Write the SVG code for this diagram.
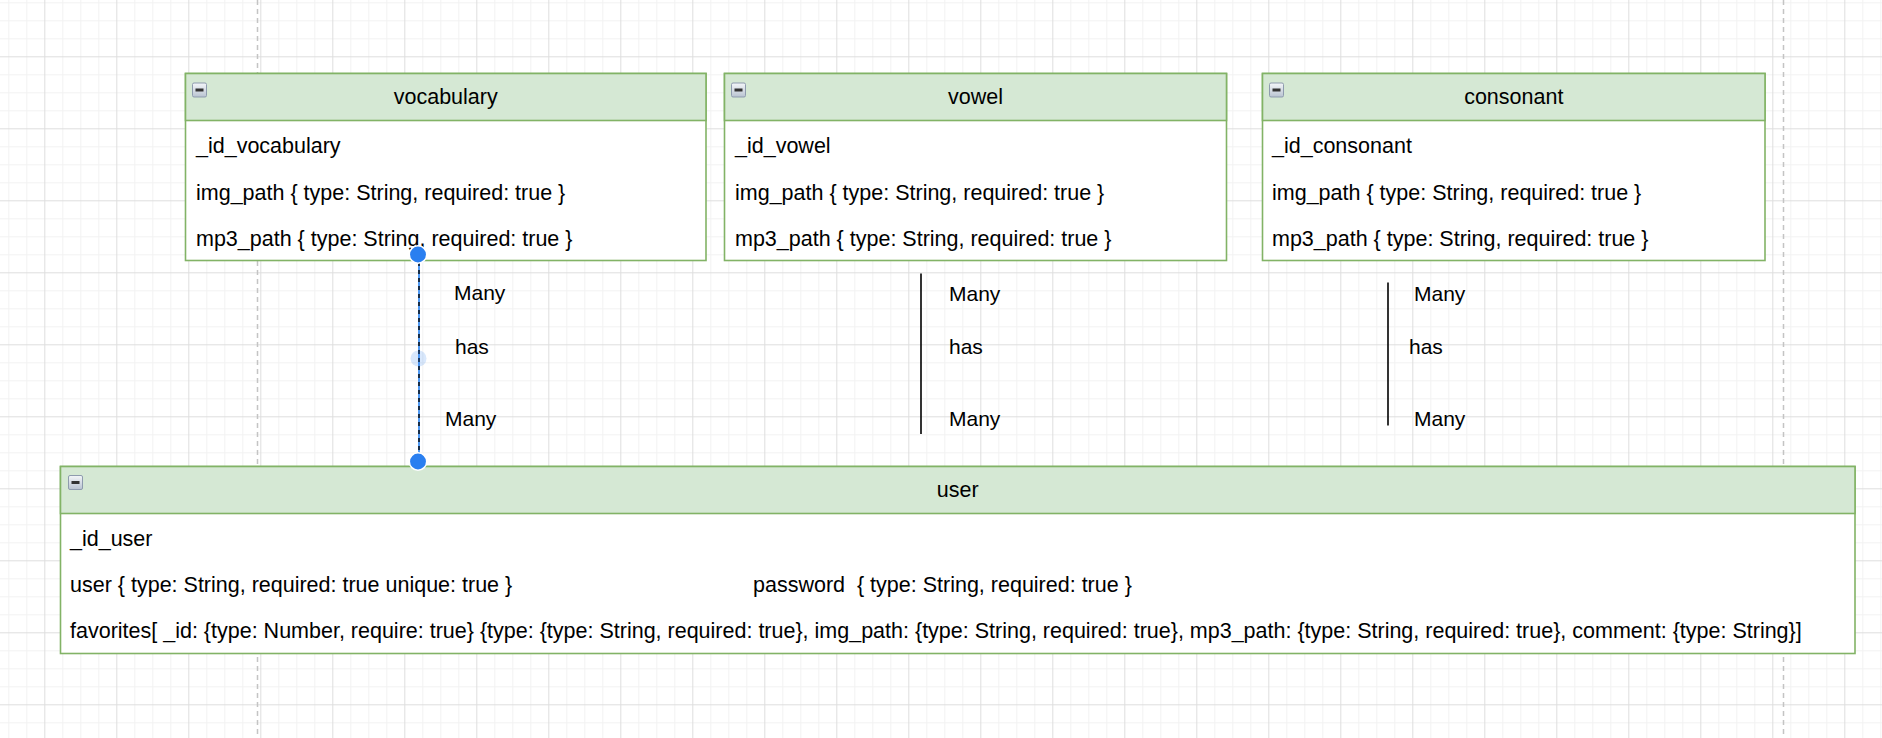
<svg xmlns="http://www.w3.org/2000/svg" width="1882" height="738" viewBox="0 0 1882 738">
<style>
.t{font-family:"Liberation Sans",Arial,Helvetica,sans-serif;font-size:21.5px;fill:#000}
.lbl{font-family:"Liberation Sans",Arial,Helvetica,sans-serif;font-size:21px;fill:#000}
.ttl{text-anchor:middle}
.body{fill:#fff;stroke:#82b366;stroke-width:1.6}
.head{fill:#d5e8d4;stroke:#82b366;stroke-width:1.6}
.edge{stroke:#000;stroke-width:1.6;fill:none}
.page{stroke:#c4c4c4;stroke-width:1.5;stroke-dasharray:5 4;fill:none}
.handle{fill:#2a7ff0;stroke:#fff;stroke-width:1.5}
</style>
<defs>
<pattern id="grid" patternUnits="userSpaceOnUse" x="44.3" y="56.3" width="72" height="72">
<path d="M18.5 0V72M36.5 0V72M54.5 0V72M0 18.5H72M0 36.5H72M0 54.5H72" stroke="#f2f2f2" stroke-width="1" fill="none"/>
<path d="M0.5 0V72M0 0.5H72" stroke="#dedede" stroke-width="1" fill="none"/>
</pattern>
<linearGradient id="ig" x1="0" y1="0" x2="0" y2="1">
<stop offset="0" stop-color="#f4f6f9"/>
<stop offset="1" stop-color="#b9c3d1"/>
</linearGradient>
<g id="icon">
<rect x="0.5" y="0.5" width="14" height="14" rx="1.5" fill="url(#ig)" stroke="#8e9bae" stroke-width="1"/>
<rect x="3.5" y="6" width="8" height="3" fill="#333"/>
</g>
</defs>
<rect width="1882" height="738" fill="#fff"/>
<rect width="1882" height="738" fill="url(#grid)"/>
<path class="page" d="M257.5 0V738M1783.5 0V738"/>

<g id="vocabulary">
<rect class="body" x="185.5" y="73.5" width="520.5" height="187"/>
<rect class="head" x="185.5" y="73.5" width="520.5" height="47"/>
<use href="#icon" x="192" y="82.5"/>
<text class="t ttl" x="445.75" y="104">vocabulary</text>
<text class="t" x="196" y="153">_id_vocabulary</text>
<text class="t" x="196" y="199.5">img_path { type: String, required: true }</text>
<text class="t" x="196" y="246">mp3_path { type: String, required: true }</text>
</g>

<g id="vowel">
<rect class="body" x="724.5" y="73.5" width="502" height="187"/>
<rect class="head" x="724.5" y="73.5" width="502" height="47"/>
<use href="#icon" x="731" y="82.5"/>
<text class="t ttl" x="975.5" y="104">vowel</text>
<text class="t" x="735" y="153">_id_vowel</text>
<text class="t" x="735" y="199.5">img_path { type: String, required: true }</text>
<text class="t" x="735" y="246">mp3_path { type: String, required: true }</text>
</g>

<g id="consonant">
<rect class="body" x="1262.5" y="73.5" width="502.5" height="187"/>
<rect class="head" x="1262.5" y="73.5" width="502.5" height="47"/>
<use href="#icon" x="1269" y="82.5"/>
<text class="t ttl" x="1513.75" y="104">consonant</text>
<text class="t" x="1272" y="153">_id_consonant</text>
<text class="t" x="1272" y="199.5">img_path { type: String, required: true }</text>
<text class="t" x="1272" y="246">mp3_path { type: String, required: true }</text>
</g>

<g id="user">
<rect class="body" x="60.5" y="466.5" width="1794.5" height="187"/>
<rect class="head" x="60.5" y="466.5" width="1794.5" height="47"/>
<use href="#icon" x="68" y="475"/>
<text class="t ttl" x="957.75" y="497">user</text>
<text class="t" x="70" y="545.5">_id_user</text>
<text class="t" x="70" y="592">user { type: String, required: true unique: true }</text>
<text class="t" x="753" y="592" style="white-space:pre" xml:space="preserve">password  { type: String, required: true }</text>
<text class="t" x="70" y="638">favorites[ _id: {type: Number, require: true} {type: {type: String, required: true}, img_path: {type: String, required: true}, mp3_path: {type: String, required: true}, comment: {type: String}]</text>
</g>

<g id="connectors">
<g id="edge-vocabulary-user">
<path d="M419 254V461" stroke="#3d8ff2" stroke-width="1.8" fill="none"/>
<path d="M419 254V461" stroke="#000" stroke-width="1.4" stroke-dasharray="4 4" fill="none"/>
<text class="lbl" x="454" y="300">Many</text>
<text class="lbl" x="455" y="353.5">has</text>
<text class="lbl" x="445" y="425.5">Many</text>
<circle cx="418.5" cy="358.5" r="8" fill="#2a7ff0" fill-opacity="0.18"/>
<circle class="handle" cx="418" cy="254.5" r="8.7"/>
<circle class="handle" cx="418" cy="461.5" r="8.7"/>
</g>
<g id="edge-vowel-user">
<path class="edge" d="M921 273.5V434"/>
<text class="lbl" x="949" y="300.5">Many</text>
<text class="lbl" x="949" y="354">has</text>
<text class="lbl" x="949" y="425.5">Many</text>
</g>
<g id="edge-consonant-user">
<path class="edge" d="M1388 282.5V425.5"/>
<text class="lbl" x="1414" y="300.5">Many</text>
<text class="lbl" x="1409" y="354">has</text>
<text class="lbl" x="1414" y="425.5">Many</text>
</g>
</g>
</svg>
